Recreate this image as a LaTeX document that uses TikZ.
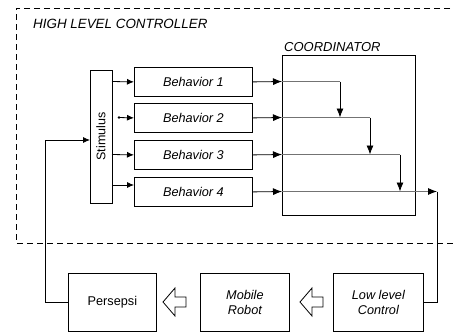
\documentclass[tikz,border=0pt]{standalone}
\usepackage{fontspec}
\setmainfont{Liberation Sans}
\usetikzlibrary{arrows.meta}
\begin{document}
\begin{tikzpicture}[x=1pt,y=-1pt,
  font=\fontsize{12.5}{15}\selectfont,
  box/.style={draw, line width=0.8pt, inner sep=0pt, anchor=north west, align=center},
  bhv/.style={box, minimum width=118pt, minimum height=29pt, font=\fontsize{12.7}{15}\selectfont\itshape},
  lowbox/.style={box, minimum width=88pt, minimum height=58pt},
  arr/.style={line width=0.8pt, -{Latex[length=7pt,width=6pt]}},
  bigarr/.style={line width=0.8pt, -{Latex[length=9pt,width=7pt]}},
  inner/.style={line width=1.2pt, draw=black!55},
  conn/.style={line width=0.8pt},
  hollow/.style={draw, line width=0.8pt, fill=white}
]
\useasboundingbox (0,0) rectangle (454,333);
% dashed high level controller frame
\draw[line width=0.8pt, dash pattern=on 6pt off 4pt] (470,8) -- (16,8) -- (16,243) -- (470,243);
\node[anchor=base west, inner sep=0pt, font=\fontsize{13.4}{15}\selectfont\itshape] (hlc) at (33,28) {HIGH LEVEL CONTROLLER};

% coordinator
\node[box, minimum width=133pt, minimum height=160pt] (coord) at (282,55) {};
\node[anchor=base west, inner sep=0pt, font=\fontsize{13}{15}\selectfont\itshape] (coordlbl) at (284,51) {COORDINATOR};

% stimulus
\node[draw, line width=0.8pt, inner sep=0pt, rotate=90, minimum width=133pt, minimum height=22pt] (stim) at (101,136.5) {Stimulus};

% behaviors
\node[bhv] (b1) at (134,67) {Behavior 1};
\node[bhv] (b2) at (134,103) {Behavior 2};
\node[bhv] (b3) at (134,140) {Behavior 3};
\node[bhv] (b4) at (134,177) {Behavior 4};

% stimulus -> behaviors
\draw[arr] (112,81.5) -- (b1.west);
\fill (119,117.5) circle (1.3pt);
\coordinate (dot) at (119,117.5);
\draw[arr] (dot) -- (b2.west);
\draw[arr] (112,154.5) -- (b3.west);
\draw[arr] (112,185) -- (134,185);

% behaviors -> coordinator
\coordinate (c1) at (282,81.5);
\coordinate (c2) at (282,117.5);
\coordinate (c3) at (282,154.5);
\coordinate (c4) at (282,191.5);
\draw[bigarr] (b1.east) -- (c1);
\draw[bigarr] (b2.east) -- (c2);
\draw[bigarr] (b3.east) -- (c3);
\draw[bigarr] (b4.east) -- (c4);

% inside coordinator
\coordinate (t1) at (340,81.5);
\coordinate (t2) at (370,117.5);
\coordinate (t3) at (400,154.5);
\coordinate (t4) at (437,191.5);
\draw[inner] (c1) -- (t1);
\draw[bigarr] (t1) -- (t1 |- c2);
\draw[inner] (c2) -- (t2);
\draw[bigarr] (t2) -- (t2 |- c3);
\draw[inner] (c3) -- (t3);
\draw[bigarr] (t3) -- (t3 |- c4);
\draw[inner] (c4) -- (428,191.5);
\draw[bigarr] (428,191.5) -- (t4);

% bottom row
\node[lowbox, font=\fontsize{12.7}{15}\selectfont] (pers) at (68,273) {Persepsi};
\node[lowbox, minimum width=89pt, font=\fontsize{12.7}{15}\selectfont\itshape] (robot) at (200,273) {Mobile\\Robot};
\node[lowbox, minimum width=90pt, font=\fontsize{12.7}{15}\selectfont\itshape] (low) at (333,273) {Low level\\Control};

% hollow arrows
\draw[hollow] (163,302) -- (175,288) -- (175,297) -- (186,297) -- (186,307) -- (175,307) -- (175,316) -- cycle;
\draw[hollow] (300,302) -- (312,288) -- (312,297) -- (323,297) -- (323,307) -- (312,307) -- (312,316) -- cycle;

% output to low level control
\draw[conn] (t4) -- (t4 |- low.east) -- (low.east);
% feedback persepsi -> stimulus
\coordinate (fb) at (45,140);
\draw[conn] (pers.west) -- (pers.west -| fb) -- (fb);
\draw[arr] (fb) -- (90,140);
\end{tikzpicture}
\end{document}
